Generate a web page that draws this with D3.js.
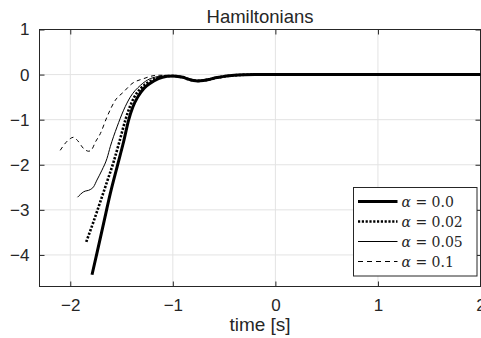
<!DOCTYPE html>
<html>
<head>
<meta charset="utf-8" />
<style>

body {
    margin: 0;
    background-color: #fff;
}

text {
    fill: #262626;
}

</style>
<title>Hamiltonians</title>
</head>

<body>
<div id="chart"></div>

<script src="https://cdn.jsdelivr.net/npm/d3@7"></script>
<script>

// data
var xTicks = [-2, -1, 0, 1, 2];
var yTicks = [1, 0, -1, -2, -3, -4];

var tailTime = [-1.0, -0.95, -0.9, -0.85, -0.8, -0.76, -0.7, -0.65, -0.6, -0.55, -0.5, -0.45, -0.4, -0.3, -0.2, 0, 1, 2];
var tailH    = [-0.03, -0.04, -0.06, -0.10, -0.13, -0.14, -0.13, -0.11, -0.08, -0.06, -0.04, -0.025, -0.015, -0.005, 0, 0, 0, 0];

var time00 = [-1.788, -1.74, -1.675, -1.61, -1.544, -1.48, -1.431, -1.39, -1.343, -1.28, -1.22, -1.14, -1.057];
var h00    = [-4.44, -3.96, -3.30, -2.64, -2.05, -1.49, -1.01, -0.72, -0.50, -0.30, -0.19, -0.09, -0.04];

var time002 = [-1.844, -1.773, -1.707, -1.642, -1.578, -1.52, -1.463, -1.42, -1.376, -1.31, -1.252, -1.17, -1.093, -1.02];
var h002    = [-3.71, -3.26, -2.82, -2.38, -1.94, -1.48, -1.01, -0.72, -0.50, -0.30, -0.19, -0.09, -0.04, -0.03];

var time005 = [-1.929, -1.87, -1.805, -1.773, -1.74, -1.691, -1.642, -1.61, -1.544, -1.48, -1.415, -1.317, -1.22, -1.122, -1.04];
var h005    = [-2.72, -2.60, -2.55, -2.49, -2.34, -2.12, -1.86, -1.60, -1.16, -0.79, -0.50, -0.24, -0.09, -0.04, -0.03];

var time01 = [-2.098, -2.04, -2.0, -1.97, -1.93, -1.87, -1.82, -1.79, -1.756, -1.707, -1.642, -1.561, -1.48, -1.398, -1.285, -1.154, -1.057];
var h01    = [-1.68, -1.50, -1.42, -1.39, -1.46, -1.64, -1.70, -1.66, -1.50, -1.31, -0.94, -0.57, -0.385, -0.20, -0.09, -0.015, -0.015];

var seriesLabels = ["0.0", "0.02", "0.05", "0.1"];

var width = 481, height = 338;
var margin = {top: 29.5, right: 0.5, bottom: 51.5, left: 39.5};
var w = width - margin.left - margin.right,
    h = height - margin.top - margin.bottom;

var svg = d3.select("#chart").append("svg")
    .attr("width", width)
    .attr("height", height)
    .style("font-family", "'Liberation Sans', Arial, sans-serif");

var x = d3.scaleLinear().domain([-2.3, 2]).range([0, w]);
var y = d3.scaleLinear().domain([-4.7, 1]).range([h, 0]);

var g = svg.append("g")
    .attr("transform", "translate(" + margin.left + "," + margin.top + ")");

// grid
g.selectAll(".vgrid").data(xTicks).enter().append("line")
    .attr("x1", function(d) { return x(d); }).attr("x2", function(d) { return x(d); })
    .attr("y1", 0).attr("y2", h)
    .attr("stroke", "#e3e3e3").attr("stroke-width", 1);
g.selectAll(".hgrid").data(yTicks).enter().append("line")
    .attr("x1", 0).attr("x2", w)
    .attr("y1", function(d) { return y(d); }).attr("y2", function(d) { return y(d); })
    .attr("stroke", "#e3e3e3").attr("stroke-width", 1);

// axes, ticks inside like matlab
var fmt = function(d) { return d < 0 ? "\u2212" + Math.abs(d) : "" + d; };

var xAxis = g.append("g").attr("transform", "translate(0," + h + ")")
    .call(d3.axisBottom(x).tickValues(xTicks).tickSizeInner(-5).tickSizeOuter(0).tickPadding(12).tickFormat(fmt));
var yAxis = g.append("g")
    .call(d3.axisLeft(y).tickValues(yTicks).tickSizeInner(-5).tickSizeOuter(0).tickPadding(10).tickFormat(fmt));
g.append("g")
    .call(d3.axisTop(x).tickValues(xTicks).tickSizeInner(-5).tickSizeOuter(0).tickFormat(""));
g.append("g").attr("transform", "translate(" + w + ",0)")
    .call(d3.axisRight(y).tickValues(yTicks).tickSizeInner(-5).tickSizeOuter(0).tickFormat(""));

g.selectAll(".domain").remove();
g.selectAll(".tick line").attr("stroke", "#262626");
g.selectAll(".tick text").attr("font-size", 17).attr("fill", "#262626").attr("font-family", null);

g.append("rect")
    .attr("width", w).attr("height", h)
    .attr("fill", "none").attr("stroke", "#262626").attr("stroke-width", 1);

// curves
g.append("clipPath").attr("id", "clip")
    .append("rect").attr("width", w).attr("height", h);

var styles = [
    {width: 3, dash: null},
    {width: 2.6, dash: "2.2,1.6"},
    {width: 1, dash: null},
    {width: 1, dash: "4,3.5"}
];

var series = [
    {t: time00.concat(tailTime), v: h00.concat(tailH)},
    {t: time002.concat(tailTime), v: h002.concat(tailH)},
    {t: time005.concat(tailTime), v: h005.concat(tailH)},
    {t: time01.concat(tailTime), v: h01.concat(tailH)}
];

var line = d3.line()
    .x(function(d) { return x(d[0]); })
    .y(function(d) { return y(d[1]); })
    .curve(d3.curveMonotoneX);

var plot = g.append("g").attr("clip-path", "url(#clip)");
series.forEach(function(s, i) {
    plot.append("path")
        .datum(d3.zip(s.t, s.v))
        .attr("d", line)
        .attr("fill", "none")
        .attr("stroke", "#000")
        .attr("stroke-width", styles[i].width)
        .attr("stroke-dasharray", styles[i].dash);
});

// title and label
svg.append("text")
    .attr("x", margin.left + w / 2).attr("y", 23)
    .attr("text-anchor", "middle")
    .attr("font-size", 18.5)
    .attr("fill", "#000")
    .text("Hamiltonians");

svg.append("text")
    .attr("x", margin.left + w / 2).attr("y", 331)
    .attr("text-anchor", "middle")
    .attr("font-size", 19)
    .text("time [s]");

// legend
var legend = svg.append("g").attr("transform", "translate(353.5,187.5)");
legend.append("rect")
    .attr("width", 123.5).attr("height", 88.5)
    .attr("fill", "#fff").attr("stroke", "#262626").attr("stroke-width", 1);

var rows = legend.selectAll(".row").data(seriesLabels).enter().append("g")
    .attr("transform", function(d, i) { return "translate(0," + (14 + i * 20) + ")"; });

rows.append("line")
    .attr("x1", 4.5).attr("x2", 44)
    .attr("y1", 0).attr("y2", 0)
    .attr("stroke", "#000")
    .attr("stroke-width", function(d, i) { return styles[i].width; })
    .attr("stroke-dasharray", function(d, i) { return i == 3 ? "5,4" : styles[i].dash; });

var lt = rows.append("text")
    .attr("x", 48).attr("y", 5)
    .attr("font-family", "'DejaVu Serif', serif")
    .attr("font-size", 14)
    .attr("fill", "#000");
lt.append("tspan").attr("font-style", "italic").text("\u03b1");
lt.append("tspan").text(function(d) { return " = " + d; });

</script>
</body>
</html>
